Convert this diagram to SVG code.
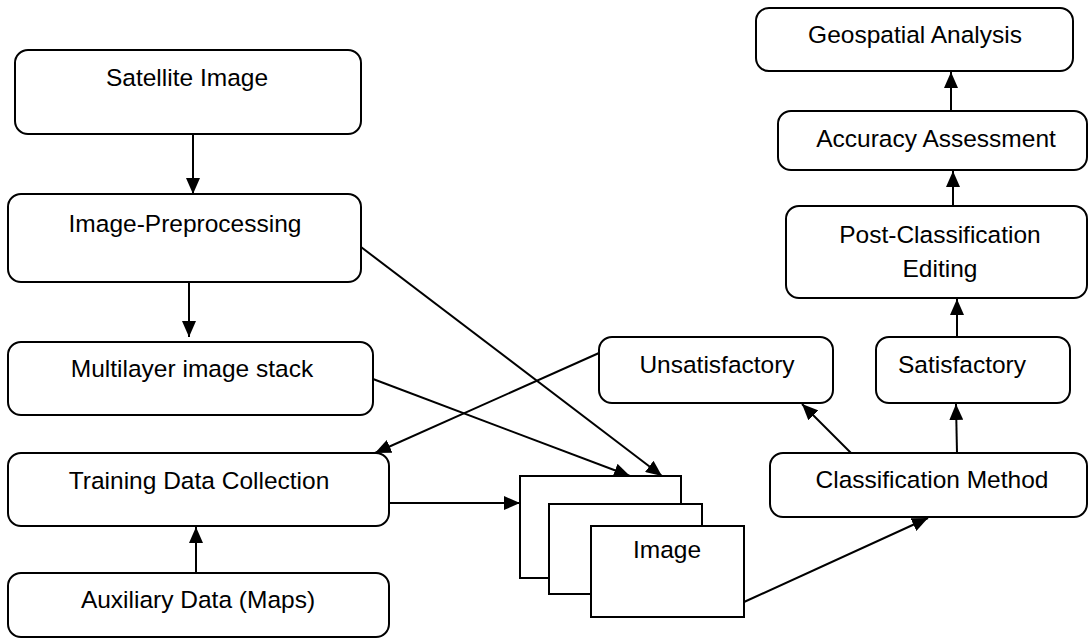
<svg xmlns="http://www.w3.org/2000/svg" width="1089" height="639" viewBox="0 0 1089 639">
<style>
.box{fill:#fff;stroke:#000;stroke-width:2}
.sq{fill:#fff;stroke:#000;stroke-width:2}
text{font-family:"Liberation Sans",Arial,sans-serif;font-size:24.5px;fill:#000;text-anchor:middle}
.c line{stroke:#000;stroke-width:2;marker-end:url(#ah)}
</style>
<defs>
<marker id="ah" markerUnits="userSpaceOnUse" markerWidth="16" markerHeight="14" refX="16" refY="7" orient="auto">
<path d="M0,0 L16,7 L0,14 z" fill="#000"/>
</marker>
</defs>
<rect width="1089" height="639" fill="#fff"/>
<g id="satellite"><rect class="box" x="15" y="50" width="346" height="84" rx="13"/><text x="187" y="86">Satellite Image</text></g>
<g id="preprocessing"><rect class="box" x="8" y="194" width="353" height="88" rx="13"/><text x="185" y="232">Image-Preprocessing</text></g>
<g id="multilayer"><rect class="box" x="8" y="342" width="365" height="73" rx="13"/><text x="192" y="377">Multilayer image stack</text></g>
<g id="training"><rect class="box" x="8" y="453" width="381" height="73" rx="13"/><text x="199" y="489">Training Data Collection</text></g>
<g id="auxiliary"><rect class="box" x="8" y="573" width="381" height="64" rx="13"/><text x="198" y="608">Auxiliary Data (Maps)</text></g>
<g id="imagestack">
<rect class="sq" x="520" y="476" width="161" height="102"/>
<rect class="sq" x="549" y="504" width="153" height="90"/>
<rect class="sq" x="591" y="526" width="153" height="91"/>
<text x="667" y="558">Image</text>
</g>
<g id="unsatisfactory"><rect class="box" x="599" y="337" width="234" height="66" rx="13"/><text x="717" y="373">Unsatisfactory</text></g>
<g id="satisfactory"><rect class="box" x="876" y="337" width="194" height="66" rx="13"/><text x="962" y="373">Satisfactory</text></g>
<g id="classification"><rect class="box" x="770" y="453" width="317" height="64" rx="13"/><text x="932" y="488">Classification Method</text></g>
<g id="postclass"><rect class="box" x="786" y="206" width="301" height="92" rx="13"/><text x="940" y="243">Post-Classification</text><text x="940" y="277">Editing</text></g>
<g id="accuracy"><rect class="box" x="778" y="111" width="309" height="59" rx="13"/><text x="936" y="147">Accuracy Assessment</text></g>
<g id="geospatial"><rect class="box" x="756" y="8" width="317" height="63" rx="13"/><text x="915" y="43">Geospatial Analysis</text></g>
<g id="connectors" class="c">
<line x1="193" y1="134" x2="193" y2="194"/>
<line x1="189" y1="282" x2="189" y2="337"/>
<line x1="196" y1="573" x2="196" y2="527"/>
<line x1="389" y1="503" x2="520" y2="503"/>
<line x1="373" y1="379" x2="630" y2="476"/>
<line x1="361" y1="247" x2="662" y2="476"/>
<line x1="599" y1="353" x2="375" y2="453"/>
<line x1="744" y1="602" x2="928" y2="518"/>
<line x1="851" y1="453" x2="802" y2="404"/>
<line x1="957" y1="453" x2="956" y2="404"/>
<line x1="957" y1="337" x2="957" y2="299"/>
<line x1="953" y1="206" x2="953" y2="171"/>
<line x1="951" y1="111" x2="951" y2="72"/>
</g>
</svg>
